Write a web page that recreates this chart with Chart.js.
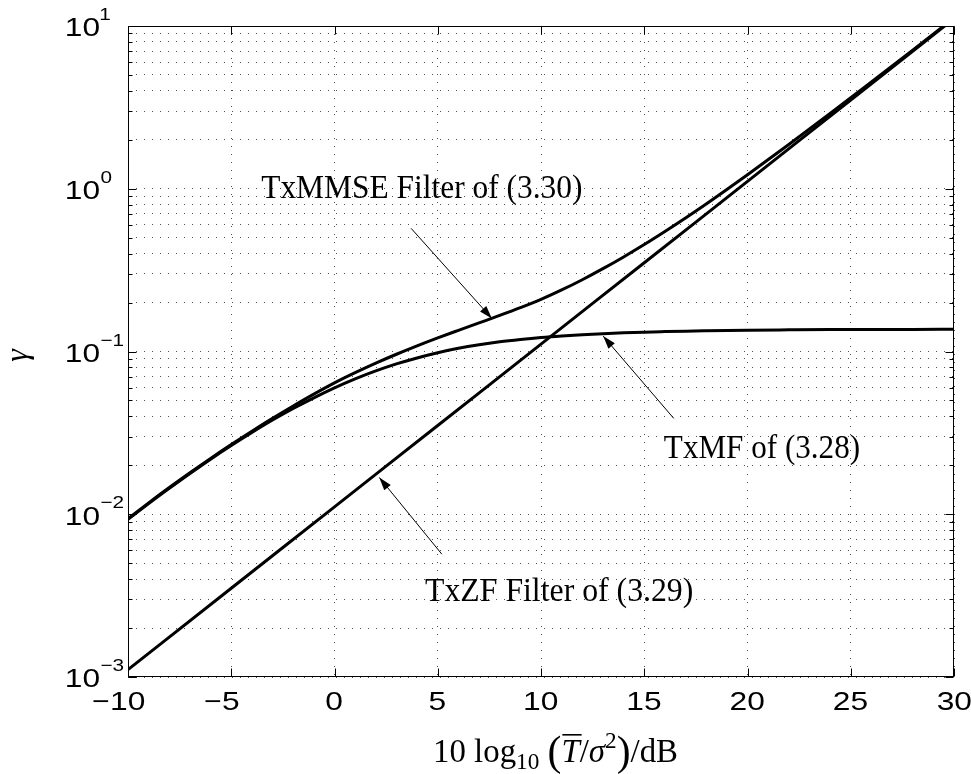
<!DOCTYPE html>
<html><head><meta charset="utf-8">
<script src="https://cdn.jsdelivr.net/npm/chart.js@4"></script>
<style>html,body{margin:0;padding:0;background:#fff;overflow:hidden}#wrap{width:971px;height:774px}</style>
</head><body><div id="wrap"><canvas id="c" width="971" height="774"></canvas></div>
<script>
// ---- data ----
const snrDb = [-10,-9,-8,-7,-6,-5,-4,-3,-2,-1,0,1,2,3,4,5,6,7,8,9,10,11,12,13,14,15,16,17,18,19,20,22,24,26,28,30];
const gammaTxMF = [0.0093,0.01163,0.01443,0.01780,0.02181,0.02645,0.03180,0.03790,0.04463,0.05193,0.05977,0.06785,0.07595,0.08386,0.09128,0.09829,0.1046,0.1100,0.1147,0.1186,0.1220,0.1247,0.1269,0.1287,0.1302,0.1315,0.1325,0.1334,0.1341,0.1347,0.1352,0.1358,0.1363,0.1365,0.1367,0.1368];
const gammaTxMMSE = [0.0094,0.01175,0.01459,0.01799,0.02203,0.02679,0.03236,0.03882,0.04624,0.05470,0.06412,0.07408,0.08481,0.09619,0.1083,0.1212,0.1349,0.1499,0.1666,0.1859,0.2089,0.2388,0.2761,0.3228,0.3811,0.4539,0.5458,0.6607,0.8054,0.9886,1.219,1.871,2.897,4.529,7.112,11.22];
const snrZF = [-10,-5,0,5,10,15,20,25,30];
const gammaTxZF = [0.00111,0.00351,0.0111,0.0351,0.111,0.351,1.11,3.51,11.1];
const xTickValues = [-10,-5,0,5,10,15,20,25,30];
const yExponents = [-3,-2,-1,0,1];
const yMinorFactors = [2,3,4,5,6,7,8,9];
const annotationTexts = ['TxMMSE Filter of (3.30)','TxMF of (3.28)','TxZF Filter of (3.29)'];

// derived
const yMajor = yExponents.map(e => Math.pow(10, e));
const yTickValues = [];
yExponents.forEach((e, i) => { yTickValues.push(yMajor[i]); if (i < yExponents.length - 1) yMinorFactors.forEach(f => yTickValues.push(+(f * yMajor[i]).toPrecision(3))); });
const toXY = (xs, ys) => xs.map((v, i) => ({x: v, y: ys[i]}));

// annotation layout (data coordinates)
const annots = [
  {text: annotationTexts[0], x: -3.55, y: 0.877, w: 320, from: [3.71, 0.571], to: [7.62, 0.1597]},
  {text: annotationTexts[1], x: 15.95, y: 0.02203, w: 195, from: [16.43, 0.0388], to: [13.01, 0.1243]},
  {text: annotationTexts[2], x: 4.386, y: 0.002923, w: 267, from: [5.197, 0.005686], to: [2.169, 0.01683]}
];

const SANS = '"Liberation Sans", Arial, sans-serif';
const SERIF = '"Liberation Serif", "Times New Roman", serif';
const SX = 1.22;

function inkText(ctx, str, font, sx, ax, by, align) {
  ctx.font = font; ctx.textAlign = 'left'; ctx.textBaseline = 'alphabetic';
  const m = ctx.measureText(str);
  const l = -m.actualBoundingBoxLeft, r = m.actualBoundingBoxRight;
  const w = (r - l) * sx;
  const left = align === 'center' ? ax - w / 2 : align === 'right' ? ax - w : ax;
  ctx.save(); ctx.translate(left - l * sx, by); ctx.scale(sx, 1); ctx.fillText(str, 0, 0); ctx.restore();
  return {left, right: left + w};
}
function seg(ctx, x1, y1, x2, y2) { ctx.beginPath(); ctx.moveTo(x1, y1); ctx.lineTo(x2, y2); ctx.stroke(); }
function arrow(ctx, x1, y1, x2, y2) {
  ctx.lineWidth = 1; seg(ctx, x1, y1, x2, y2);
  const ang = Math.atan2(y2 - y1, x2 - x1), L = 13, H = 4.2;
  ctx.beginPath();
  ctx.moveTo(x2, y2);
  ctx.lineTo(x2 - L * Math.cos(ang) + H * Math.sin(ang), y2 - L * Math.sin(ang) - H * Math.cos(ang));
  ctx.lineTo(x2 - L * Math.cos(ang) - H * Math.sin(ang), y2 - L * Math.sin(ang) + H * Math.cos(ang));
  ctx.closePath(); ctx.fill();
}

const decor = {
  id: 'decor',
  afterDraw(chart) {
    const {ctx, chartArea: a, scales: {x, y}} = chart;
    ctx.save();
    ctx.strokeStyle = '#000'; ctx.fillStyle = '#000'; ctx.lineWidth = 1;
    const L = Math.round(a.left) + 0.5, R = Math.round(a.right) - 0.5, T = Math.round(a.top) + 0.5, B = Math.round(a.bottom) - 0.5;
    ctx.strokeRect(L, T, R - L, B - T);
    // ticks (inward, all four sides)
    xTickValues.forEach(v => { const px = Math.round(x.getPixelForValue(v)) + 0.5; seg(ctx, px, B, px, B - 8); seg(ctx, px, T, px, T + 8); });
    yTickValues.forEach(v => {
      const py = Math.round(y.getPixelForValue(v)) + 0.5; const len = yMajor.includes(v) ? 8 : 4;
      seg(ctx, L, py, L + len, py); seg(ctx, R, py, R - len, py);
    });
    // x tick labels
    xTickValues.forEach(v => {
      const px = x.getPixelForValue(v);
      const r = inkText(ctx, String(Math.abs(v)), '26px ' + SANS, SX, px, a.bottom + 33, 'center');
      if (v < 0) inkText(ctx, '\u2212', '26px ' + SANS, SX * 0.95, r.left - 3, a.bottom + 33, 'right');
    });
    // y tick labels 10^n
    yExponents.forEach((e, i) => {
      const py = y.getPixelForValue(yMajor[i]);
      const r = inkText(ctx, '10', '26px ' + SANS, SX, a.left - 28.5, py + 10.3, 'right');
      const sup = (e < 0 ? '\u2212' : '') + Math.abs(e);
      inkText(ctx, sup, '17px ' + SANS, SX, r.right + 1, py - 6, 'left');
    });
    // annotations
    annots.forEach(an => {
      const font = '34px ' + SERIF; ctx.font = font;
      const m = ctx.measureText(an.text);
      const sx = an.w / (m.actualBoundingBoxRight + m.actualBoundingBoxLeft);
      inkText(ctx, an.text, font, sx, x.getPixelForValue(an.x), y.getPixelForValue(an.y), 'left');
      arrow(ctx, x.getPixelForValue(an.from[0]), y.getPixelForValue(an.from[1]), x.getPixelForValue(an.to[0]), y.getPixelForValue(an.to[1]));
    });
    // y-axis label gamma
    ctx.save(); ctx.translate(27, (a.top + a.bottom) / 2 + 4); ctx.rotate(-Math.PI / 2);
    ctx.font = 'italic 32px ' + SERIF; ctx.textAlign = 'center'; ctx.textBaseline = 'alphabetic';
    ctx.fillText('\u03b3', 0, 0); ctx.restore();
    // x-axis title: 10 log10 ( T̄ / σ^2 ) / dB
    const fs = 34;
    const Rf = fs + 'px ' + SERIF, If = 'italic ' + fs + 'px ' + SERIF, Sf = Math.round(fs * 0.7) + 'px ' + SERIF, Bf = Math.round(fs * 1.25) + 'px ' + SERIF;
    const parts = [
      {t: '10 log', f: Rf, dy: 0}, {t: '10', f: Sf, dy: fs * 0.22}, {t: ' ', f: Rf, dy: 0},
      {t: '(', f: Bf, dy: fs * 0.08}, {t: 'T', f: If, dy: 0, over: true}, {t: '/', f: Rf, dy: 0},
      {t: '\u03c3', f: If, dy: 0}, {t: '2', f: Sf, dy: -fs * 0.42}, {t: ')', f: Bf, dy: fs * 0.08}, {t: '/dB', f: Rf, dy: 0}
    ];
    ctx.textAlign = 'left'; ctx.textBaseline = 'alphabetic';
    let total = 0; parts.forEach(p => { ctx.font = p.f; p.adv = ctx.measureText(p.t).width; total += p.adv; });
    const tW = 245, sx = tW / total;
    ctx.save(); ctx.translate(433, 762); ctx.scale(sx, 1);
    let cx = 0;
    parts.forEach(p => {
      ctx.font = p.f; ctx.fillText(p.t, cx, p.dy);
      if (p.over) { const m = ctx.measureText(p.t); ctx.fillRect(cx + 1, -m.actualBoundingBoxAscent - 6, p.adv + 1, 1.6); }
      cx += p.adv;
    });
    ctx.restore();
    ctx.restore();
  }
};

const lineStyle = {borderColor: '#000', borderWidth: 3, pointRadius: 0, fill: false, cubicInterpolationMode: 'monotone', clip: 0};
new Chart(document.getElementById('c'), {
  type: 'line',
  data: {datasets: [
    Object.assign({label: 'TxMMSE', data: toXY(snrDb, gammaTxMMSE)}, lineStyle),
    Object.assign({label: 'TxMF', data: toXY(snrDb, gammaTxMF)}, lineStyle),
    Object.assign({label: 'TxZF', data: toXY(snrZF, gammaTxZF)}, lineStyle)
  ]},
  options: {
    responsive: false, animation: false, events: [],
    layout: {padding: {left: 128, top: 26, right: 17, bottom: 97}},
    plugins: {legend: {display: false}, tooltip: {enabled: false}},
    scales: {
      x: {type: 'linear', min: -10, max: 30,
        afterBuildTicks: s => { s.ticks = xTickValues.map(v => ({value: v})); },
        ticks: {display: false}, grid: {color: 'rgba(0,0,0,0.7)', lineWidth: 1, drawTicks: false},
        border: {display: false, dash: [1, 7]}},
      y: {type: 'logarithmic', min: 0.001, max: 10,
        afterBuildTicks: s => { s.ticks = yTickValues.map(v => ({value: v})); },
        ticks: {display: false}, grid: {color: 'rgba(0,0,0,0.7)', lineWidth: 1, drawTicks: false},
        border: {display: false, dash: [1, 7]}}
    }
  },
  plugins: [decor]
});
</script></body></html>
